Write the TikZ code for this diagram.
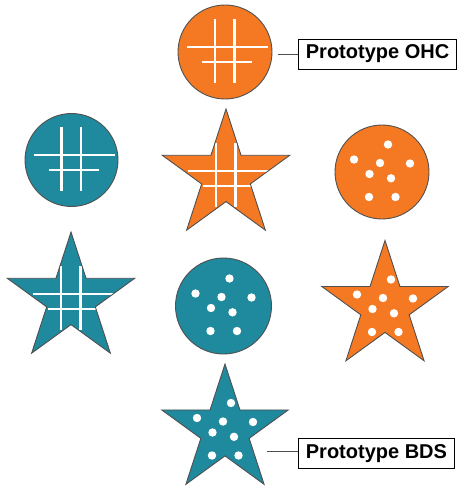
\documentclass[tikz,border=0pt]{standalone}
\usepackage{fontspec}
\setmainfont{Liberation Sans}
\usetikzlibrary{shapes.geometric}
\definecolor{protoO}{RGB}{245,121,34}
\definecolor{protoT}{RGB}{31,137,158}
\definecolor{rim}{RGB}{80,80,80}

% white grid and white dots, relative to the shape centre
\newcommand\hashmarks{\draw[white,line width=2.6pt] (-10,-33)--(-10,31) (9.5,-33)--(9.5,31)
  (-38,-5)--(43,-5) (-23,10)--(27,10);}
\newcommand\dotmarks{\foreach \dx/\dy in {6/-27.5,-28/-12.5,-2/-9,28/-8.5,-12.5/2,9/6.3,-13/25,13.5/25}
  \fill[white] (\dx,\dy) circle (4.2pt);}

\tikzset{
  disc/.style={circle,draw=rim,line width=0.9pt,inner sep=0pt,minimum size=#1},
  fivestar/.style={star,star points=5,star point ratio=2.618,draw=rim,line width=0.9pt,
    inner sep=0pt,minimum size=#1},
  hashdisc/.style={path picture={\begin{scope}[shift={(path picture bounding box.center)}]\hashmarks\end{scope}}},
  dotdisc/.style={path picture={\begin{scope}[shift={(path picture bounding box.center)}]\dotmarks\end{scope}}},
  hashstar/.style={path picture={\begin{scope}[shift={([yshift=-67pt]path picture bounding box.north)},shift={(-2,1)}]\hashmarks\end{scope}}},
  dotstar/.style={path picture={\begin{scope}[shift={([yshift=-67pt]path picture bounding box.north)},shift={(-2,1)}]\dotmarks\end{scope}}},
  tag/.style={draw=black,line width=0.8pt,anchor=west,inner xsep=7.5pt,minimum height=30pt,
    font=\bfseries\fontsize{20}{22}\selectfont},
}

\begin{document}
\begin{tikzpicture}[x=1pt,y=-1pt]
\useasboundingbox (0,0) rectangle (459,486);
% circles
\node[disc=94pt,fill=protoO,hashdisc] (ohc) at (225,52) {};
\node[disc=93pt,fill=protoT,hashdisc] (tealhash) at (71.5,160) {};
\node[disc=94pt,fill=protoO,dotdisc] (orangedots) at (382,172) {};
\node[disc=96pt,fill=protoT,dotdisc] (tealdots) at (223.5,306) {};
% stars
\node[fivestar=134pt,fill=protoO,hashstar] (orangestar) at (226,176) {};
\node[fivestar=134pt,fill=protoT,hashstar] (tealstar) at (71,299) {};
\node[fivestar=133pt,fill=protoO,dotstar] (orangedotstar) at (385,307) {};
\node[fivestar=133pt,fill=protoT,dotstar] (bds) at (225,430.5) {};
% labels
\node[tag] (ohclab) at (298,54) {Prototype OHC};
\node[tag] (bdslab) at (298,453.5) {Prototype BDS};
\coordinate (ohcend) at (278,54);
\coordinate (bdsend) at (267,451);
\draw[rim,line width=0.9pt] (ohcend) -- (ohclab.west |- ohcend);
\draw[rim,line width=0.9pt] (bdsend) -- (bdslab.west |- bdsend);
\end{tikzpicture}
\end{document}
